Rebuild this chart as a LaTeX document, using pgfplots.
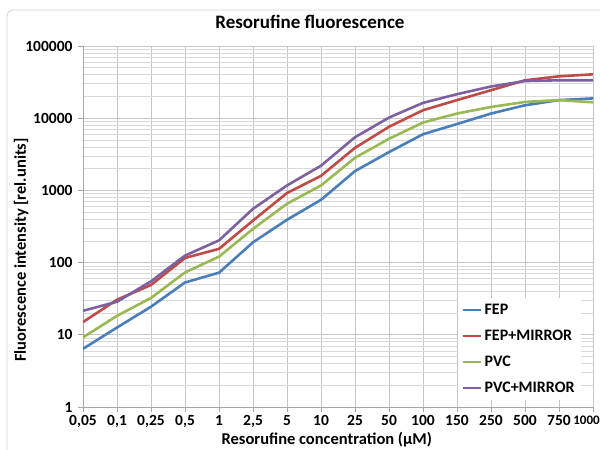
\documentclass[border=0pt]{standalone}
\usepackage{fontspec}
\setmainfont{Carlito}
\usepackage{pgfplots}
\pgfplotsset{compat=1.18}
\definecolor{cFEP}{RGB}{74,126,187}
\definecolor{cFEPM}{RGB}{190,75,72}
\definecolor{cPVC}{RGB}{152,185,84}
\definecolor{cPVCM}{RGB}{125,96,160}
\begin{document}
\begin{tikzpicture}[x=1pt,y=1pt]
\draw[gray!35, rounded corners=6pt, line width=0.8pt] (-76,-60) rectangle (540,397);
\begin{axis}[
  at={(0pt,0pt)}, anchor=south west,
  scale only axis, width=510pt, height=361pt,
  ymode=log, ymin=1, ymax=100000,
  xmin=0, xmax=15,
  xtick={0,...,15},
  xticklabels={{0,05},{0,1},{0,25},{0,5},{1},{2,5},{5},{10},{25},{50},{100},{150},{250},{500},{750},{\fontsize{13}{16}\selectfont\hspace*{-13pt}1000}},
  ytick={1,10,100,1000,10000,100000},
  yticklabels={1,10,100,1000,10000,100000},
  yticklabel style={xshift=-2pt},
  grid=both,
  major grid style={gray!45, line width=0.7pt},
  minor grid style={gray!30, line width=0.6pt},
  axis x line*=bottom, axis y line*=left,
  axis line style={gray!70, line width=0.8pt},
  tick align=outside, major tick length=5pt, minor tick length=0pt,
  tick style={gray!70, line width=0.8pt},
  ticklabel style={font=\fontsize{15.5}{18}\selectfont\bfseries},
  title={Resorufine fluorescence},
  title style={at={(axis description cs:0.445,1.0305)}, anchor=base, font=\fontsize{19}{22}\selectfont\bfseries},
  xlabel={Resorufine concentration (µM)},
  xlabel style={at={(axis description cs:0.478,-0.1025)}, anchor=base, font=\fontsize{16.5}{19}\selectfont\bfseries},
  ylabel={Fluorescence intensity [rel.units]},
  ylabel style={at={(axis description cs:-0.112,0.435)}, anchor=base, font=\fontsize{16.5}{19}\selectfont\bfseries},
  legend style={at={(rel axis cs:0.735,0.302)}, anchor=north west, draw=none, fill=white,
    font=\fontsize{16}{18}\selectfont\bfseries, row sep=10pt, inner xsep=4pt, inner ysep=4pt},
  legend cell align=left,
  legend image code/.code={\draw[#1, line width=2.6pt] (0pt,0pt) -- (18pt,0pt);},
  every axis plot/.append style={line width=2.6pt},
]
\addplot[cFEP] coordinates {(0,6.4)(1,12.6)(2,24.5)(3,53)(4,72.5)(5,191)(6,392)(7,740)(8,1850)(9,3390)(10,6000)(11,8300)(12,11600)(13,15100)(14,17800)(15,18800)};
\addlegendentry{FEP}
\addplot[cFEPM] coordinates {(0,15)(1,30.6)(2,49)(3,116)(4,155)(5,382)(6,920)(7,1590)(8,3890)(9,7600)(10,12900)(11,17800)(12,24400)(13,33500)(14,38000)(15,40500)};
\addlegendentry{FEP+MIRROR}
\addplot[cPVC] coordinates {(0,9.2)(1,18.3)(2,32.4)(3,73)(4,121)(5,293)(6,653)(7,1170)(8,2830)(9,5190)(10,8700)(11,11600)(12,14300)(13,16800)(14,17800)(15,16600)};
\addlegendentry{PVC}
\addplot[cPVCM] coordinates {(0,21.5)(1,28.7)(2,55)(3,125)(4,203)(5,556)(6,1170)(7,2200)(8,5450)(9,10200)(10,16300)(11,21500)(12,27500)(13,32700)(14,33500)(15,33500)};
\addlegendentry{PVC+MIRROR}
\end{axis}
\pgfresetboundingbox
\path[use as bounding box] (-83,-43) rectangle (517,407);
\end{tikzpicture}
\end{document}
